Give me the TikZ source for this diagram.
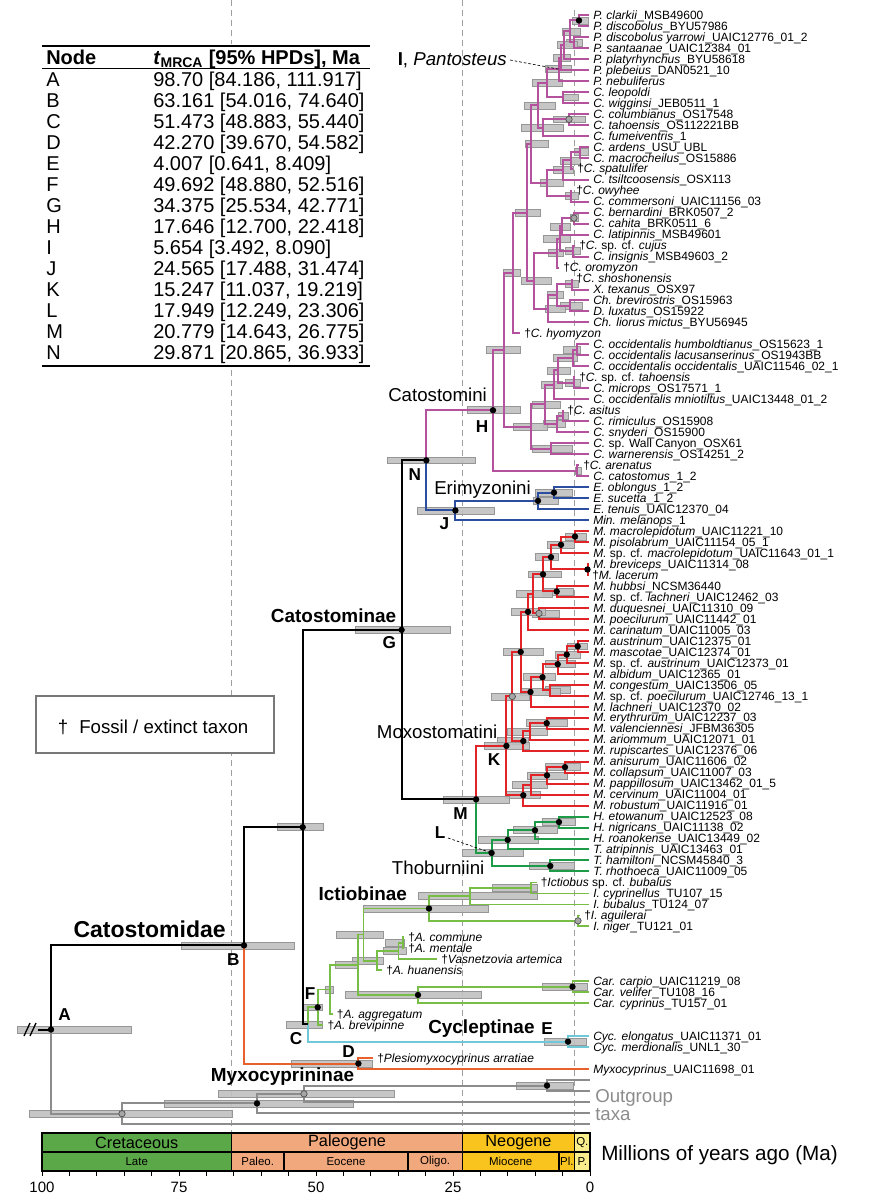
\documentclass[tikz,border=0pt]{standalone}
\usepackage{fontspec}
\setmainfont{Liberation Sans}
\pgfdeclarelayer{gridl}\pgfdeclarelayer{bars}\pgfdeclarelayer{fg}
\pgfsetlayers{gridl,bars,main,fg}
\definecolor{catc}{RGB}{180,82,158}
\definecolor{eric}{RGB}{43,78,160}
\definecolor{moxc}{RGB}{226,35,40}
\definecolor{thbc}{RGB}{30,155,70}
\definecolor{ictc}{RGB}{120,190,70}
\definecolor{cycc}{RGB}{110,200,215}
\definecolor{myxc}{RGB}{232,97,45}
\definecolor{outc}{RGB}{140,140,140}
\definecolor{hpdf}{RGB}{192,192,192}
\definecolor{hpdd}{RGB}{150,150,150}
\definecolor{gdc}{RGB}{165,165,165}
\definecolor{cret}{RGB}{90,168,72}
\definecolor{paleo}{RGB}{242,168,125}
\definecolor{neo}{RGB}{249,196,30}
\definecolor{quat}{RGB}{250,238,140}
\definecolor{legc}{RGB}{120,120,120}
\tikzset{
 lw/.style={line width=1.5pt},
 blk/.style={lw, draw=black},
 cat/.style={lw, draw=catc},
 eri/.style={lw, draw=eric},
 mox/.style={lw, draw=moxc},
 thb/.style={lw, draw=thbc},
 ict/.style={line width=1.3pt, draw=ictc},
 cyc/.style={line width=1.3pt, draw=cycc},
 myx/.style={lw, draw=myxc},
 outg/.style={lw, draw=outc},
 hpd/.style={fill=hpdf, draw=hpdd, line width=0.5pt, fill opacity=0.9},
 bd/.style={fill=black},
 gd/.style={fill=gdc, draw=black!70, line width=0.5pt},
 nod/.style={},
 tiplab/.style={anchor=west, xshift=3pt, inner sep=0pt, font=\fontsize{9}{10}\selectfont, text height=6.4pt, text depth=0pt},
 nlet/.style={font=\bfseries\fontsize{12.9}{14}\selectfont, inner sep=0pt},
 tribe/.style={anchor=base west, font=\fontsize{14}{16}\selectfont, inner sep=0pt},
 subf/.style={anchor=base west, font=\bfseries\fontsize{14.2}{16}\selectfont, inner sep=0pt},
 dline/.style={draw=gray!75, line width=0.75pt, dash pattern=on 4.5pt off 3pt},
 tsbox/.style={draw=black, line width=0.8pt},
 tabt/.style={anchor=base west, inner sep=0pt, font=\fontsize{15}{17}\selectfont},
 leader/.style={draw=black, line width=0.5pt, dash pattern=on 2pt off 1.5pt},
}
\newcommand{\mytip}[4]{%
  \coordinate (#1) at (#3,{15+10.98*#2});
  \node[tiplab] at (#1) {#4};}
\newcommand{\mynode}[9]{%
  \path (#3) -- coordinate[midway] (#1mid) (#4);
  \coordinate (#1) at (#2,0 |- #1mid);
  \ifdim #8pt=#9pt\else
  \begin{pgfonlayer}{bars}
  \coordinate (#1hl) at (#8,0 |- #1);
  \coordinate (#1hr) at (#9,0 |- #1);
  \filldraw[hpd] ([yshift=2.6pt]#1hl) rectangle ([yshift=-2.6pt]#1hr);
  \end{pgfonlayer}\fi
  \draw[#5] (#1) |- (#3);
  \draw[#6] (#1) |- (#4);
  \begin{pgfonlayer}{fg}\path[#7] (#1) circle[radius=2.4pt];\end{pgfonlayer}}
\begin{document}
\begin{tikzpicture}[x=0.75pt,y=-0.75pt]
\useasboundingbox (0,0) rectangle (869,1196);
% dashed time lines
\begin{pgfonlayer}{gridl}
\draw[dline] (231.5,0) -- (231.5,1133);
\draw[dline] (462.5,0) -- (462.5,1133);
\draw[dline] (574.5,10) -- (574.5,1133);
\end{pgfonlayer}
% ---------- tips ----------
\mytip{Pcla}{0}{589}{\textit{P. clarkii}\_MSB49600}
\mytip{Pdis}{1}{589}{\textit{P. discobolus}\_BYU57986}
\mytip{Pyar}{2}{589}{\textit{P. discobolus yarrowi}\_UAIC12776\_01\_2}
\mytip{Psan}{3}{589}{\textit{P. santaanae}\_UAIC12384\_01}
\mytip{Ppla}{4}{589}{\textit{P. platyrhynchus}\_BYU58618}
\mytip{Pple}{5}{589}{\textit{P. plebeius}\_DAN0521\_10}
\mytip{Pneb}{6}{589}{\textit{P. nebuliferus}}
\mytip{Cleo}{7}{589}{\textit{C. leopoldi}}
\mytip{Cwig}{8}{589}{\textit{C. wigginsi}\_JEB0511\_1}
\mytip{Ccol}{9}{589}{\textit{C. columbianus}\_OS17548}
\mytip{Ctah}{10}{589}{\textit{C. tahoensis}\_OS112221BB}
\mytip{Cfum}{11}{589}{\textit{C. fumeiventris}\_1}
\mytip{Card}{12}{589}{\textit{C. ardens}\_USU\_UBL}
\mytip{Cmac}{13}{589}{\textit{C. macrocheilus}\_OS15886}
\mytip{Cspa}{14}{573}{†\textit{C. spatulifer}}
\mytip{Ctsi}{15}{589}{\textit{C. tsiltcoosensis}\_OSX113}
\mytip{Cowy}{16}{572}{†\textit{C. owyhee}}
\mytip{Ccom}{17}{589}{\textit{C. commersoni}\_UAIC11156\_03}
\mytip{Cber}{18}{589}{\textit{C. bernardini}\_BRK0507\_2}
\mytip{Ccah}{19}{589}{\textit{C. cahita}\_BRK0511\_6}
\mytip{Clat}{20}{589}{\textit{C. latipinnis}\_MSB49601}
\mytip{Ccuj}{21}{575}{†\textit{C.} sp. cf. \textit{cujus}}
\mytip{Cins}{22}{589}{\textit{C. insignis}\_MSB49603\_2}
\mytip{Coro}{23}{559}{†\textit{C. oromyzon}}
\mytip{Csho}{24}{572}{†\textit{C. shoshonensis}}
\mytip{Xtex}{25}{589}{\textit{X. texanus}\_OSX97}
\mytip{Chbr}{26}{589}{\textit{Ch. brevirostris}\_OS15963}
\mytip{Dlux}{27}{589}{\textit{D. luxatus}\_OS15922}
\mytip{Chli}{28}{589}{\textit{Ch. liorus mictus}\_BYU56945}
\mytip{Chyo}{29}{520}{†\textit{C. hyomyzon}}
\mytip{Coh}{30}{589}{\textit{C. occidentalis humboldtianus}\_OS15623\_1}
\mytip{Col}{31}{589}{\textit{C. occidentalis lacusanserinus}\_OS1943BB}
\mytip{Coo}{32}{589}{\textit{C. occidentalis occidentalis}\_UAIC11546\_02\_1}
\mytip{Ccft}{33}{575}{†\textit{C.} sp. cf. \textit{tahoensis}}
\mytip{Cmic}{34}{589}{\textit{C. microps}\_OS17571\_1}
\mytip{Com}{35}{589}{\textit{C. occidentalis mniotiltus}\_UAIC13448\_01\_2}
\mytip{Casi}{36}{563}{†\textit{C. asitus}}
\mytip{Crim}{37}{589}{\textit{C. rimiculus}\_OS15908}
\mytip{Csny}{38}{589}{\textit{C. snyderi}\_OS15900}
\mytip{Cwc}{39}{589}{\textit{C.} sp. Wall Canyon\_OSX61}
\mytip{Cwar}{40}{589}{\textit{C. warnerensis}\_OS14251\_2}
\mytip{Care}{41}{579}{†\textit{C. arenatus}}
\mytip{Ccat}{42}{589}{\textit{C. catostomus}\_1\_2}
\mytip{Eobl}{43}{589}{\textit{E. oblongus}\_1\_2}
\mytip{Esuc}{44}{589}{\textit{E. sucetta}\_1\_2}
\mytip{Eten}{45}{589}{\textit{E. tenuis}\_UAIC12370\_04}
\mytip{Mmel}{46}{589}{\textit{Min. melanops}\_1}
\mytip{Mmac}{47}{589}{\textit{M. macrolepidotum}\_UAIC11221\_10}
\mytip{Mpis}{48}{589}{\textit{M. pisolabrum}\_UAIC11154\_05\_1}
\mytip{Mcfm}{49}{589}{\textit{M.} sp. cf. \textit{macrolepidotum}\_UAIC11643\_01\_1}
\mytip{Mbre}{50}{589}{\textit{M. breviceps}\_UAIC11314\_08}
\mytip{Mlac}{51}{588}{†\textit{M. lacerum}}
\mytip{Mhub}{52}{589}{\textit{M. hubbsi}\_NCSM36440}
\mytip{Mcfl}{53}{589}{\textit{M.} sp. cf. \textit{lachneri}\_UAIC12462\_03}
\mytip{Mduq}{54}{589}{\textit{M. duquesnei}\_UAIC11310\_09}
\mytip{Mpoe}{55}{589}{\textit{M. poecilurum}\_UAIC11442\_01}
\mytip{Mcar}{56}{589}{\textit{M. carinatum}\_UAIC11005\_03}
\mytip{Maus}{57}{589}{\textit{M. austrinum}\_UAIC12375\_01}
\mytip{Mmas}{58}{589}{\textit{M. mascotae}\_UAIC12374\_01}
\mytip{Mcfa}{59}{589}{\textit{M.} sp. cf. \textit{austrinum}\_UAIC12373\_01}
\mytip{Malb}{60}{589}{\textit{M. albidum}\_UAIC12365\_01}
\mytip{Mcon}{61}{589}{\textit{M. congestum}\_UAIC13506\_05}
\mytip{Mcfp}{62}{589}{\textit{M.} sp. cf. \textit{poecilurum}\_UAIC12746\_13\_1}
\mytip{Mlachn}{63}{589}{\textit{M. lachneri}\_UAIC12370\_02}
\mytip{Mery}{64}{589}{\textit{M. erythrurum}\_UAIC12237\_03}
\mytip{Mval}{65}{589}{\textit{M. valenciennesi}\_JFBM36305}
\mytip{Mari}{66}{589}{\textit{M. ariommum}\_UAIC12071\_01}
\mytip{Mrup}{67}{589}{\textit{M. rupiscartes}\_UAIC12376\_06}
\mytip{Mani}{68}{589}{\textit{M. anisurum}\_UAIC11606\_02}
\mytip{Mcol}{69}{589}{\textit{M. collapsum}\_UAIC11007\_03}
\mytip{Mpap}{70}{589}{\textit{M. pappillosum}\_UAIC13462\_01\_5}
\mytip{Mcer}{71}{589}{\textit{M. cervinum}\_UAIC11004\_01}
\mytip{Mrob}{72}{589}{\textit{M. robustum}\_UAIC11916\_01}
\mytip{Heto}{73}{589}{\textit{H. etowanum}\_UAIC12523\_08}
\mytip{Hnig}{74}{589}{\textit{H. nigricans}\_UAIC11138\_02}
\mytip{Hroa}{75}{589}{\textit{H. roanokense}\_UAIC13449\_02}
\mytip{Tatr}{76}{589}{\textit{T. atripinnis}\_UAIC13463\_01}
\mytip{Tham}{77}{589}{\textit{T. hamiltoni}\_NCSM45840\_3}
\mytip{Trho}{78}{589}{\textit{T. rhothoeca}\_UAIC11009\_05}
\mytip{Icfb}{79}{536.5}{†\textit{Ictiobus} sp. cf. \textit{bubalus}}
\mytip{Icyp}{80}{589}{\textit{I. cyprinellus}\_TU107\_15}
\mytip{Ibub}{81}{589}{\textit{I. bubalus}\_TU124\_07}
\mytip{Iagu}{82}{580}{†\textit{I. aguilerai}}
\mytip{Inig}{83}{589}{\textit{I. niger}\_TU121\_01}
\mytip{Acom}{84}{404}{†\textit{A. commune}}
\mytip{Amen}{85}{404}{†\textit{A. mentale}}
\mytip{Vart}{86}{437}{†\textit{Vasnetzovia artemica}}
\mytip{Ahua}{87}{382}{†\textit{A. huanensis}}
\mytip{Ccarp}{88}{589}{\textit{Car. carpio}\_UAIC11219\_08}
\mytip{Cvel}{89}{589}{\textit{Car. velifer}\_TU108\_16}
\mytip{Ccyp}{90}{589}{\textit{Car. cyprinus}\_TU157\_01}
\mytip{Aagg}{91}{332.7}{†\textit{A. aggregatum}}
\mytip{Abre}{92}{323.3}{†\textit{A. brevipinne}}
\mytip{Cyel}{93}{589}{\textit{Cyc. elongatus}\_UAIC11371\_01}
\mytip{Cyme}{94}{589}{\textit{Cyc. merdionalis}\_UNL1\_30}
\mytip{Ples}{95}{373}{†\textit{Plesiomyxocyprinus arratiae}}
\mytip{Myxo}{96}{589}{\textit{Myxocyprinus}\_UAIC11698\_01}
\coordinate (Oa) at (590,{15+10.98*97});
\coordinate (Ob) at (590,{15+10.98*98});
\coordinate (Oc) at (590,{15+10.98*99});
\coordinate (Od) at (590,{15+10.98*100});
\coordinate (Oe) at (590,{15+10.98*101});
% ---------- Catostomini ----------
\mynode{P1}{579}{Pcla}{Pdis}{cat}{cat}{bd}{572}{588}
\mynode{P2}{574}{Pyar}{Psan}{cat}{cat}{nod}{566}{582}
\mynode{P3}{570}{P1}{P2}{cat}{cat}{nod}{562}{580}
\mynode{P4}{564}{P3}{Ppla}{cat}{cat}{nod}{557}{577}
\mynode{P5}{561}{P4}{Pple}{cat}{cat}{nod}{553}{570}
\mynode{I}{559}{P5}{Pneb}{cat}{cat}{nod}{545.7}{570.9}
\mynode{LW}{563}{Cleo}{Cwig}{cat}{cat}{nod}{563}{578}
\mynode{IL}{547}{I}{LW}{cat}{cat}{nod}{532}{562}
\mynode{CT}{569}{Ccol}{Ctah}{cat}{cat}{gd}{553}{585}
\mynode{CTF}{543}{CT}{Cfum}{cat}{cat}{nod}{521}{563}
\mynode{PC}{538}{IL}{CTF}{cat}{cat}{nod}{524}{555}
\mynode{AM}{580}{Card}{Cmac}{cat}{cat}{nod}{574}{588}
\mynode{AMS}{571}{AM}{Cspa}{cat}{cat}{nod}{560}{580}
\mynode{AMT}{563}{AMS}{Ctsi}{cat}{cat}{nod}{553}{573}
\mynode{OC}{571}{Cowy}{Ccom}{cat}{cat}{nod}{565}{578}
\mynode{AMO}{547}{AMT}{OC}{cat}{cat}{nod}{540}{563}
\mynode{V}{531}{PC}{AMO}{cat}{cat}{nod}{525}{548}
\mynode{BC}{574}{Cber}{Ccah}{cat}{cat}{gd}{570}{578}
\mynode{BCL}{562}{BC}{Clat}{cat}{cat}{nod}{550}{570}
\mynode{CI}{573}{Ccuj}{Cins}{cat}{cat}{nod}{565}{580}
\mynode{QA}{560}{BCL}{CI}{cat}{cat}{nod}{543}{570}
\mynode{QB}{557}{QA}{Coro}{cat}{cat}{nod}{548}{563}
\mynode{ST}{572}{Csho}{Xtex}{cat}{cat}{nod}{565}{578}
\mynode{BD}{570}{Chbr}{Dlux}{cat}{cat}{nod}{560}{582}
\mynode{STBD}{557}{ST}{BD}{cat}{cat}{nod}{547}{563}
\mynode{SBL}{548}{STBD}{Chli}{cat}{cat}{nod}{545}{565}
\mynode{R}{534}{QB}{SBL}{cat}{cat}{nod}{521}{551}
\mynode{U}{527}{V}{R}{cat}{cat}{nod}{515}{540}
\mynode{T}{513}{U}{Chyo}{cat}{cat}{nod}{503}{520}
\mynode{HL}{577}{Coh}{Col}{cat}{cat}{nod}{563}{580}
\mynode{HLO}{573}{HL}{Coo}{cat}{cat}{nod}{553}{577}
\mynode{TM}{574}{Ccft}{Cmic}{cat}{cat}{nod}{565}{580}
\mynode{HT}{558}{HLO}{TM}{cat}{cat}{nod}{547}{570}
\mynode{HTM}{554}{HT}{Com}{cat}{cat}{nod}{541}{562}
\mynode{AR}{563}{Casi}{Crim}{cat}{cat}{nod}{558}{568}
\mynode{ARS}{557}{AR}{Csny}{cat}{cat}{nod}{543}{565}
\mynode{OR}{545}{HTM}{ARS}{cat}{cat}{nod}{532}{560}
\mynode{WW}{551}{Cwc}{Cwar}{cat}{cat}{nod}{532}{572}
\mynode{ORW}{531}{OR}{WW}{cat}{cat}{nod}{513}{547}
\mynode{S}{504}{T}{ORW}{cat}{cat}{nod}{486}{520}
\mynode{ACa}{577}{Care}{Ccat}{cat}{cat}{nod}{575}{581}
\mynode{H}{493}{S}{ACa}{cat}{cat}{bd}{467}{520.4}
% ---------- Erimyzonini ----------
\mynode{ES}{554}{Eobl}{Esuc}{eri}{eri}{bd}{535}{572}
\mynode{EST}{538}{ES}{Eten}{eri}{eri}{bd}{533}{558}
\mynode{J}{455.4}{EST}{Mmel}{eri}{eri}{bd}{417.5}{494.2}
\mynode{N}{426.3}{H}{J}{cat}{eri}{bd}{387.6}{475.7}
% ---------- Moxostomatini ----------
\mynode{MP}{575}{Mmac}{Mpis}{mox}{mox}{bd}{565}{586}
\mynode{MPc}{561}{MP}{Mcfm}{mox}{mox}{bd}{547}{574}
\mynode{BL}{587.5}{Mbre}{Mlac}{mox}{mox}{bd}{587.5}{587.5}
\mynode{MB}{551}{MPc}{BL}{mox}{mox}{bd}{535}{558}
\mynode{HB}{556.7}{Mhub}{Mcfl}{mox}{mox}{bd}{542}{573}
\mynode{MH}{543}{MB}{HB}{mox}{mox}{bd}{528}{561}
\mynode{DP}{539}{Mduq}{Mpoe}{mox}{mox}{gd}{532}{559}
\mynode{MD}{533}{MH}{DP}{mox}{mox}{nod}{516}{552}
\mynode{MDC}{528}{MD}{Mcar}{mox}{mox}{bd}{511}{545}
\mynode{AUM}{577.7}{Maus}{Mmas}{mox}{mox}{bd}{567}{587}
\mynode{AUMc}{566.7}{AUM}{Mcfa}{mox}{mox}{bd}{555}{580}
\mynode{AUMA}{557.7}{AUMc}{Malb}{mox}{mox}{bd}{545}{575}
\mynode{CP}{550}{Mcon}{Mcfp}{mox}{mox}{nod}{545}{570}
\mynode{ACb}{542.5}{AUMA}{CP}{mox}{mox}{bd}{523}{555}
\mynode{ACL}{530.5}{ACb}{Mlachn}{mox}{mox}{bd}{520}{560}
\mynode{UPa}{520.7}{MDC}{ACL}{mox}{mox}{bd}{503}{543}
\mynode{EV}{546.7}{Mery}{Mval}{mox}{mox}{bd}{526}{567}
\mynode{EVA}{530}{EV}{Mari}{mox}{mox}{nod}{507}{547}
\mynode{EVR}{523.3}{EVA}{Mrup}{mox}{mox}{bd}{497}{528}
\mynode{UP}{512.3}{UPa}{EVR}{mox}{mox}{gd}{491}{529}
\mynode{ACc}{565}{Mani}{Mcol}{mox}{mox}{bd}{545}{580}
\mynode{ACP}{547}{ACc}{Mpap}{mox}{mox}{bd}{527}{567}
\mynode{ACPC}{531}{ACP}{Mcer}{mox}{mox}{nod}{512}{547}
\mynode{LO}{523.3}{ACPC}{Mrob}{mox}{mox}{bd}{505}{540}
\mynode{K}{506.4}{UP}{LO}{mox}{mox}{bd}{484.7}{529.5}
% ---------- Thoburniini ----------
\mynode{EN}{559}{Heto}{Hnig}{thb}{thb}{bd}{542}{575}
\mynode{ENR}{535}{EN}{Hroa}{thb}{thb}{bd}{513}{557}
\mynode{ENT}{507.7}{ENR}{Tatr}{thb}{thb}{bd}{478}{538}
\mynode{HR}{550.3}{Tham}{Trho}{thb}{thb}{bd}{529}{574}
\mynode{L}{491.6}{ENT}{HR}{thb}{thb}{bd}{462.3}{522.9}
\mynode{M}{476.1}{K}{L}{mox}{thb}{bd}{443.3}{509.8}
\mynode{G}{401.6}{N}{M}{blk}{blk}{bd}{355.6}{450}
% ---------- Ictiobinae ----------
\mynode{Ia}{531}{Icfb}{Icyp}{ict}{ict}{nod}{492}{537}
\mynode{Ib}{470}{Ia}{Ibub}{ict}{ict}{nod}{418}{537}
\mynode{AN}{578}{Iagu}{Inig}{ict}{ict}{gd}{578}{578}
\mynode{Ict}{429}{Ib}{AN}{ict}{ict}{bd}{363}{488}
\mynode{CM}{403}{Acom}{Amen}{ict}{ict}{nod}{385}{404}
\mynode{CMV}{398.4}{CM}{Vart}{ict}{ict}{nod}{383}{406}
\mynode{CMH}{377}{CMV}{Ahua}{ict}{ict}{nod}{352}{383}
\mynode{IA}{363.5}{Ict}{CMH}{ict}{ict}{nod}{336}{383}
\mynode{CV}{572.5}{Ccarp}{Cvel}{ict}{ict}{bd}{542}{587}
\mynode{CVC}{418}{CV}{Ccyp}{ict}{ict}{bd}{345}{481}
\mynode{IAC}{358}{IA}{CVC}{ict}{ict}{nod}{335}{358}
\mynode{IAg}{330}{IAC}{Aagg}{ict}{ict}{nod}{325}{333}
\mynode{F}{317.7}{IAg}{Abre}{ict}{ict}{bd}{302.2}{322.1}
\mynode{E}{568}{Cyel}{Cyme}{cyc}{cyc}{bd}{543.9}{586.5}
\mynode{C}{308}{F}{E}{ict}{cyc}{nod}{286.2}{322.1}
\mynode{XA}{302.7}{G}{C}{blk}{blk}{bd}{277}{323}
\mynode{D}{358.4}{Ples}{Myxo}{myx}{myx}{bd}{290.9}{372.6}
\mynode{B}{244}{XA}{D}{blk}{myx}{bd}{180.9}{294}
% ---------- Outgroup ----------
\mynode{OD}{547}{Oa}{Ob}{outg}{outg}{bd}{516}{573}
\mynode{OCc}{304}{OD}{Oc}{outg}{outg}{gd}{218}{394}
\mynode{OB}{257}{OCc}{Od}{outg}{outg}{bd}{164}{353}
\mynode{OA}{122}{OB}{Oe}{outg}{outg}{gd}{29}{232}
\mynode{A}{51}{B}{OA}{blk}{outg}{bd}{17}{131}
\coordinate (Root) at (38,0 |- A);
\draw[blk] (Root) -- (A);
\draw[line width=1pt] (24,1036) -- (30,1023);
\draw[line width=1pt] (30,1036) -- (36,1023);
% ---------- clade labels ----------
\node[anchor=base west, inner sep=0pt, font=\bfseries\fontsize{17.25}{19}\selectfont] (lCatd) at (73.3,937.3) {Catostomidae};
\node[subf] (lCatn) at (270.7,622.3) {Catostominae};
\node[subf] (lIct) at (318.3,900) {Ictiobinae};
\node[subf] (lCyc) at (428,1033) {Cycleptinae};
\node[subf] (lMyx) at (210.7,1081.7) {Myxocyprininae};
\node[tribe] (lCati) at (388,401.7) {Catostomini};
\node[tribe] (lEri) at (434,494.3) {Erimyzonini};
\node[tribe] (lMox) at (376.7,738.3) {Moxostomatini};
\node[tribe] (lTho) at (391.7,874.3) {Thoburniini};
\node[anchor=base east, inner sep=0pt, font=\fontsize{14}{16}\selectfont] (lPan) at (507,65) {\textbf{I}, \textit{Pantosteus}};
\coordinate (Ilead) at (510,60);
\draw[leader] (Ilead) -- (I);
\node[nlet] (tA) at (64.7,1014.5) {A};
\node[nlet] (tB) at (233.3,959.5) {B};
\node[nlet] (tC) at (296,1038.3) {C};
\node[nlet] (tD) at (348.5,1051.7) {D};
\node[nlet] (tE) at (547,1028.5) {E};
\node[nlet] (tF) at (310,993.3) {F};
\node[nlet] (tG) at (389.3,643) {G};
\node[nlet] (tH) at (482,426.2) {H};
\node[nlet] (tJ) at (444.5,524) {J};
\node[nlet] (tK) at (494,759.7) {K};
\node[nlet] (tL) at (440,832.5) {L};
\node[nlet] (tM) at (460.5,814) {M};
\node[nlet] (tN) at (414.8,474.3) {N};
\coordinate (Llead) at (448,838);
\draw[leader] (Llead) -- (L);
\node[anchor=base west, inner sep=0pt, font=\fontsize{14}{16}\selectfont, text=outc] (lOut) at (595,1102.5) {Outgroup};
\node[anchor=base west, inner sep=0pt, font=\fontsize{14}{16}\selectfont, text=outc] (lTax) at (595,1120.5) {taxa};
% ---------- table ----------
\fill[white] (40,44) rectangle (372,368);
\draw[line width=1.5pt] (42,46) -- (370,46);
\draw[line width=0.75pt] (42,68) -- (370,68);
\draw[line width=1.5pt] (42,366) -- (370,366);
\node[tabt, font=\bfseries\fontsize{15}{17}\selectfont] (h1) at (46,64) {Node};
\node[tabt, font=\bfseries\fontsize{15}{17}\selectfont] (h2) at (153,64) {\textit{t}\textsubscript{MRCA} [95\% HPDs], Ma};
\node[tabt] (rA) at (46,86) {A};  \node[tabt] (vA) at (153,86) {98.70 [84.186, 111.917]};
\node[tabt] (rB) at (46,107) {B}; \node[tabt] (vB) at (153,107) {63.161 [54.016, 74.640]};
\node[tabt] (rC) at (46,128) {C}; \node[tabt] (vC) at (153,128) {51.473 [48.883, 55.440]};
\node[tabt] (rD) at (46,149) {D}; \node[tabt] (vD) at (153,149) {42.270 [39.670, 54.582]};
\node[tabt] (rE) at (46,170) {E}; \node[tabt] (vE) at (153,170) {4.007 [0.641, 8.409]};
\node[tabt] (rF) at (46,191) {F}; \node[tabt] (vF) at (153,191) {49.692 [48.880, 52.516]};
\node[tabt] (rG) at (46,212) {G}; \node[tabt] (vG) at (153,212) {34.375 [25.534, 42.771]};
\node[tabt] (rH) at (46,233) {H}; \node[tabt] (vH) at (153,233) {17.646 [12.700, 22.418]};
\node[tabt] (rI) at (46,254) {I}; \node[tabt] (vI) at (153,254) {5.654 [3.492, 8.090]};
\node[tabt] (rJ) at (46,275) {J}; \node[tabt] (vJ) at (153,275) {24.565 [17.488, 31.474]};
\node[tabt] (rK) at (46,296) {K}; \node[tabt] (vK) at (153,296) {15.247 [11.037, 19.219]};
\node[tabt] (rL) at (46,317) {L}; \node[tabt] (vL) at (153,317) {17.949 [12.249, 23.306]};
\node[tabt] (rM) at (46,338) {M}; \node[tabt] (vM) at (153,338) {20.779 [14.643, 26.775]};
\node[tabt] (rN) at (46,359) {N}; \node[tabt] (vN) at (153,359) {29.871 [20.865, 36.933]};
% ---------- legend ----------
\draw[line width=1.5pt, draw=legc, fill=white] (36,696) rectangle (274,753);
\node[inner sep=0pt, font=\fontsize{14}{16}\selectfont] (lgd) at (63,727) {†};
\node[anchor=west, inner sep=0pt, font=\fontsize{14}{16}\selectfont] (lgt) at (79,727) {Fossil / extinct taxon};
% ---------- time scale ----------
\filldraw[tsbox, fill=cret] (42,1133) rectangle (231.5,1152);
\filldraw[tsbox, fill=paleo] (231.5,1133) rectangle (462.5,1152);
\filldraw[tsbox, fill=neo] (462.5,1133) rectangle (574.5,1152);
\filldraw[tsbox, fill=quat] (574.5,1133) rectangle (590,1152);
\filldraw[tsbox, fill=cret] (42,1152) rectangle (231.5,1171);
\filldraw[tsbox, fill=paleo] (231.5,1152) rectangle (284,1171);
\filldraw[tsbox, fill=paleo] (284,1152) rectangle (408,1171);
\filldraw[tsbox, fill=paleo] (408,1152) rectangle (462.5,1171);
\filldraw[tsbox, fill=neo] (462.5,1152) rectangle (559,1171);
\filldraw[tsbox, fill=neo] (559,1152) rectangle (574.5,1171);
\filldraw[tsbox, fill=quat] (574.5,1152) rectangle (590,1171);
\tikzset{perl/.style={inner sep=0pt, font=\fontsize{12.2}{14}\selectfont}, epl/.style={inner sep=0pt, font=\fontsize{8.6}{10}\selectfont}}
\node[perl] at (136.75,1142.5) {Cretaceous};
\node[perl] at (347,1142.5) {Paleogene};
\node[perl] at (518.5,1142.5) {Neogene};
\node[epl] at (582.3,1142.5) {Q.};
\node[epl] at (136.75,1161.5) {Late};
\node[epl] at (257.7,1161.5) {Paleo.};
\node[epl] at (346,1161.5) {Eocene};
\node[epl] at (435.2,1161.5) {Oligo.};
\node[epl] at (510.7,1161.5) {Miocene};
\node[epl] at (566.8,1161.5) {Pl.};
\node[epl] at (582.3,1161.5) {P.};
\foreach \t in {0,5,...,100} \draw[line width=0.6pt] ({590-5.48*\t},1171) -- ++(0,5);
\foreach \t in {0,25,50,75,100} \node[inner sep=0pt, font=\fontsize{11.25}{13}\selectfont] at ({590-5.48*\t},1187) {\t};
\node[anchor=base west, inner sep=0pt, font=\fontsize{15.5}{18}\selectfont] (lMya) at (601,1160) {Millions of years ago (Ma)};
\end{tikzpicture}
\end{document}
